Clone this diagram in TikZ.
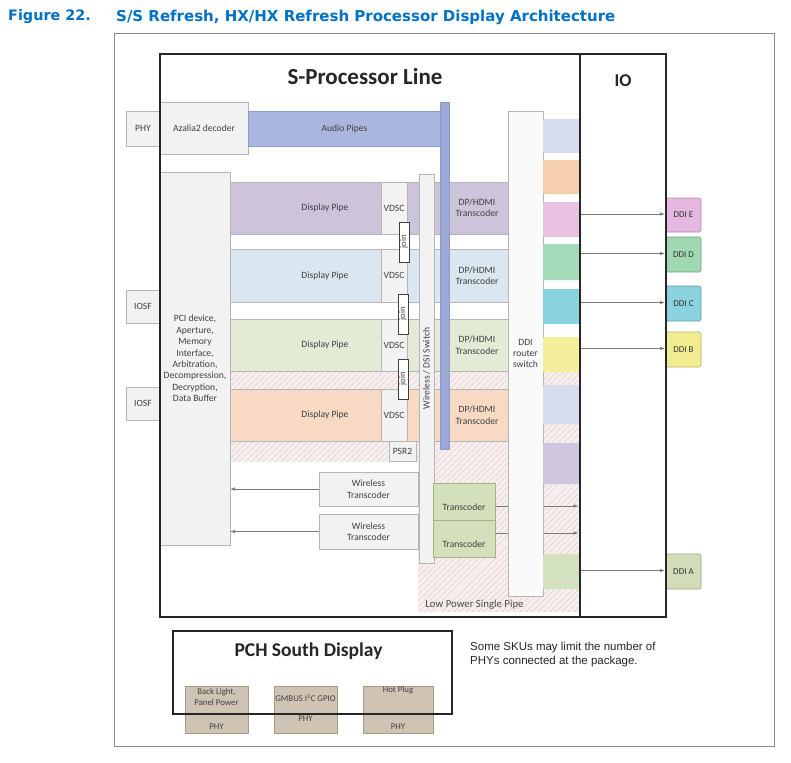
\documentclass[tikz,border=0pt]{standalone}
\usepackage{fontspec}
\setmainfont{Carlito}
\newfontfamily\figtitlefont{DejaVu Sans}
\newfontfamily\notefont{Liberation Sans}
\usetikzlibrary{arrows.meta,patterns.meta}
\pgfdeclarelayer{fg}
\pgfsetlayers{main,fg}
\definecolor{titleblue}{HTML}{0071C5}
\definecolor{frameline}{HTML}{8C8C8C}
\definecolor{boxline}{HTML}{B5B5B5}
\definecolor{boxgray}{HTML}{F2F2F2}
\definecolor{txt}{HTML}{404040}
\definecolor{audiofill}{HTML}{AAB6DE}
\definecolor{audioline}{HTML}{8E9BC9}
\definecolor{audiobarfill}{HTML}{9DAAD9}
\definecolor{rowA}{HTML}{CDC4DC}
\definecolor{rowB}{HTML}{DAE7F1}
\definecolor{rowC}{HTML}{E3EAD6}
\definecolor{rowD}{HTML}{F8DAC4}
\definecolor{hatchbg}{HTML}{F7EEEE}
\definecolor{hatchline}{HTML}{DEC2C2}
\definecolor{tcfill}{HTML}{D4DFBB}
\definecolor{tcline}{HTML}{A3B585}
\definecolor{sqA}{HTML}{D6DDEE}
\definecolor{sqB}{HTML}{F6CFAE}
\definecolor{sqC}{HTML}{E9C1E1}
\definecolor{sqD}{HTML}{A3DABA}
\definecolor{sqE}{HTML}{89D3DC}
\definecolor{sqF}{HTML}{F3EF9C}
\definecolor{sqG}{HTML}{CFC6E0}
\definecolor{sqH}{HTML}{D3E1BE}
\definecolor{ddiEc}{HTML}{E5B9DF}
\definecolor{ddiDc}{HTML}{A0D8B2}
\definecolor{ddiCc}{HTML}{8AD2DD}
\definecolor{ddiBc}{HTML}{F1EC8F}
\definecolor{ddiAc}{HTML}{D0DDB8}
\definecolor{taupe}{HTML}{CFC3B4}
\definecolor{taupeline}{HTML}{A89B8A}
\definecolor{arrline}{HTML}{7A7A7A}
\begin{document}
\begin{tikzpicture}[x=1pt,y=-1pt,
  blk/.style={anchor=north west, inner sep=0pt, outer sep=0pt, draw=boxline, line width=0.6pt,
    align=center, font=\fontsize{9.6}{11.4}\selectfont, text=txt},
  gbox/.style={blk, fill=boxgray},
  rowbox/.style={blk, draw=boxline},
  lbl/.style={inner sep=0pt, align=center, font=\fontsize{9.6}{11.4}\selectfont, text=txt},
  vbox/.style={inner sep=0pt, outer sep=0pt, draw=txt, line width=0.6pt, fill=white, rotate=90,
    font=\fontsize{8.6}{9}\selectfont, text=txt},
  sq/.style={blk, rounded corners=1pt, draw=none},
  ddi/.style={blk, rounded corners=1.5pt, minimum width=35pt, font=\fontsize{9}{10}\selectfont, text=black!80},
  tc/.style={blk, fill=tcfill, draw=tcline, minimum width=62pt, minimum height=37pt},
  thickbox/.style={anchor=north west, inner sep=0pt, outer sep=0pt, draw=black!85, line width=1.8pt},
  phybox/.style={blk, fill=taupe, draw=taupeline, minimum height=47pt},
  phylbl/.style={lbl, font=\fontsize{8.8}{10.5}\selectfont, text=black!75},
  arr/.style={draw=arrline, line width=0.7pt, -{Latex[length=5pt,width=3.5pt]}}]
\useasboundingbox (0,0) rectangle (791,762);
\fill[white] (0,0) rectangle (791,762);
% title
\node[anchor=west, inner sep=0pt, text=titleblue, font=\figtitlefont\bfseries\fontsize{14.4}{16}\selectfont] (fignum) at (8,17) {Figure 22.};
\node[anchor=west, inner sep=0pt, text=titleblue, font=\figtitlefont\bfseries\fontsize{15}{17}\selectfont] (figtitle) at (116,17) {S/S Refresh, HX/HX Refresh Processor Display Architecture};
% outer frame
\node[anchor=north west, inner sep=0pt, outer sep=0pt, draw=frameline, line width=0.8pt, minimum width=660pt, minimum height=713pt] (frame) at (114,33) {};
% main boxes on top layer
\begin{pgfonlayer}{fg}
\node[thickbox, minimum width=420pt, minimum height=563pt] (sproc) at (160,54) {};
\node[thickbox, minimum width=86pt, minimum height=563pt] (io) at (580,54) {};
\end{pgfonlayer}
\node[font=\bfseries\fontsize{23}{26}\selectfont, text=black!85] (sproctitle) at (365,77) {S-Processor Line};
\node[font=\bfseries\fontsize{18}{20}\selectfont, text=black!85] (iotitle) at (623,81) {IO};
% hatched low power area
\fill[hatchbg] (230,372) -- (580,372) -- (580,612) -- (418,612) -- (418,462) -- (230,462) -- cycle;
\fill[pattern={Lines[angle=45,distance=4pt,line width=0.5pt]}, pattern color=hatchline]
  (230,372) -- (580,372) -- (580,612) -- (418,612) -- (418,462) -- (230,462) -- cycle;
\node[lbl, font=\fontsize{10.8}{12}\selectfont, text=black!70] (lpsp) at (474.5,605) {Low Power Single Pipe};
% left column
\node[gbox, minimum width=34pt, minimum height=35pt] (phy) at (126,111) {PHY};
\node[gbox, minimum width=88pt, minimum height=52pt] (azalia) at (160,102) {Azalia2 decoder};
\node[blk, fill=audiofill, draw=audioline, minimum width=193pt, minimum height=35pt] (audio) at (248,111) {Audio Pipes};
\node[gbox, minimum width=70pt, minimum height=373pt] (pci) at (160,172)
  {PCI device,\\Aperture,\\Memory\\Interface,\\Arbitration,\\Decompression,\\Decryption,\\Data Buffer};
\node[gbox, minimum width=34pt, minimum height=33pt] (iosfA) at (126,290) {IOSF};
\node[gbox, minimum width=34pt, minimum height=33pt] (iosfB) at (126,387) {IOSF};
% display pipes
\node[rowbox, fill=rowA, minimum width=278pt, minimum height=52pt] (rowa) at (230,182) {};
\node[rowbox, fill=rowB, minimum width=278pt, minimum height=53pt] (rowb) at (230,249) {};
\node[rowbox, fill=rowC, minimum width=278pt, minimum height=52pt] (rowc) at (230,319) {};
\node[rowbox, fill=rowD, minimum width=278pt, minimum height=52pt] (rowd) at (230,389) {};
\foreach \r in {a,b,c,d}{
  \node[lbl] (dp\r) at (325,0 |- row\r.center) {Display Pipe};
  \node[lbl] (tr\r) at (477,0 |- row\r.center) {DP/HDMI\\Transcoder};
}
\node[gbox, minimum width=26pt, minimum height=52pt] (vdsca) at (381,182) {VDSC};
\node[gbox, minimum width=26pt, minimum height=53pt] (vdscb) at (381,249) {VDSC};
\node[gbox, minimum width=26pt, minimum height=52pt] (vdscc) at (381,319) {VDSC};
\node[gbox, minimum width=26pt, minimum height=52pt] (vdscd) at (381,389) {VDSC};
\node[vbox, minimum width=40pt, minimum height=10pt] (joina) at (404,242) {join};
\node[vbox, minimum width=40pt, minimum height=10pt] (joinb) at (403,314) {join};
\node[vbox, minimum width=40pt, minimum height=10pt] (joinc) at (403,379) {join};
\node[gbox, minimum width=27pt, minimum height=20pt] (psr) at (389,441) {PSR2};
% audio vertical bar and wireless switch
\node[blk, fill=audiobarfill, draw=audioline, minimum width=9pt, minimum height=347pt] (audiobar) at (440,102) {};
\node[gbox, rotate=90, anchor=center, minimum width=389pt, minimum height=15pt] (wsw) at (426.5,368.5) {Wireless / DSI Switch};
% wireless transcoders
\node[gbox, minimum width=99pt, minimum height=34pt] (wtA) at (319,472) {Wireless\\Transcoder};
\node[gbox, minimum width=99pt, minimum height=35pt] (wtB) at (319,514) {Wireless\\Transcoder};
\draw[arr] (wtA.west) -- (wtA.west -| pci.east);
\draw[arr] (wtB.west) -- (wtB.west -| pci.east);
% transcoders
\node[tc] (tcA) at (433,483) {};
\node[tc] (tcB) at (433,520) {};
\node[lbl] (tcAt) at (464,507) {Transcoder};
\node[lbl] (tcBt) at (464,544) {Transcoder};
\draw[arr, shorten >=1.5pt] ([yshift=-4.5pt]tcA.east) -- ([yshift=-4.5pt]tcA.east -| sproc.east);
\draw[arr, shorten >=1.5pt] ([yshift=5.5pt]tcB.east) -- ([yshift=5.5pt]tcB.east -| sproc.east);
% DDI router switch
\node[gbox, fill=white!60!boxgray, minimum width=35pt, minimum height=485pt] (router) at (508,111) {DDI\\router\\switch};
% port squares
\node[sq, fill=sqA, minimum width=37pt, minimum height=34pt] (sqa) at (543,119) {};
\node[sq, fill=sqB, minimum width=37pt, minimum height=34pt] (sqb) at (543,160) {};
\node[sq, fill=sqC, minimum width=37pt, minimum height=35pt] (sqc) at (543,202) {};
\node[sq, fill=sqD, minimum width=37pt, minimum height=36pt] (sqd) at (543,244) {};
\node[sq, fill=sqE, minimum width=37pt, minimum height=35pt] (sqe) at (543,289) {};
\node[sq, fill=sqF, minimum width=37pt, minimum height=35pt] (sqf) at (543,337) {};
\node[sq, fill=sqA, minimum width=37pt, minimum height=39pt] (sqg) at (543,385) {};
\node[sq, fill=sqG, minimum width=37pt, minimum height=41pt] (sqh) at (543,443) {};
\node[sq, fill=sqH, minimum width=37pt, minimum height=35pt] (sqi) at (543,554) {};
% DDI ports
\node[ddi, fill=ddiEc, draw=ddiEc!75!black, minimum height=34pt] (ddiE) at (666,198) {DDI E};
\node[ddi, fill=ddiDc, draw=ddiDc!75!black, minimum height=35pt] (ddiD) at (666,237) {DDI D};
\node[ddi, fill=ddiCc, draw=ddiCc!75!black, minimum height=35pt] (ddiC) at (666,286) {DDI C};
\node[ddi, fill=ddiBc, draw=ddiBc!75!black, minimum height=35pt] (ddiB) at (666,332) {DDI B};
\node[ddi, fill=ddiAc, draw=ddiAc!75!black, minimum height=35pt] (ddiA) at (666,554) {DDI A};
\foreach \p in {E,D,C,B,A}{
  \draw[arr, shorten >=1pt] ([yshift=1pt]ddi\p.west -| io.west) -- ([yshift=1pt]ddi\p.west);
}
% PCH south display
\node[phybox, minimum width=63pt] (bl) at (185,686) {};
\node[phybox, minimum width=63pt] (gm) at (274,686) {};
\node[phybox, minimum width=70pt] (hp) at (363,686) {};
\node[phylbl] (blt) at (216.5,697) {Back Light,\\Panel Power};
\node[phylbl] (gmt) at (305.5,698) {GMBUS I\textsuperscript{2}C GPIO};
\node[phylbl] (hpt) at (398,690) {Hot Plug};
\node[phylbl] (blp) at (216.5,727) {PHY};
\node[phylbl] (gmp) at (305.5,719) {PHY};
\node[phylbl] (hpp) at (398,727) {PHY};
\node[thickbox, minimum width=279pt, minimum height=83pt] (pch) at (173,631) {};
\node[font=\bfseries\fontsize{19.5}{22}\selectfont, text=black!85] (pchtitle) at (308.5,651) {PCH South Display};
\node[anchor=north west, inner sep=0pt, align=left, font=\notefont\fontsize{11.5}{14}\selectfont, text=black!85] (note) at (470,642)
  {Some SKUs may limit the number of\\PHYs connected at the package.};
\end{tikzpicture}
\end{document}
